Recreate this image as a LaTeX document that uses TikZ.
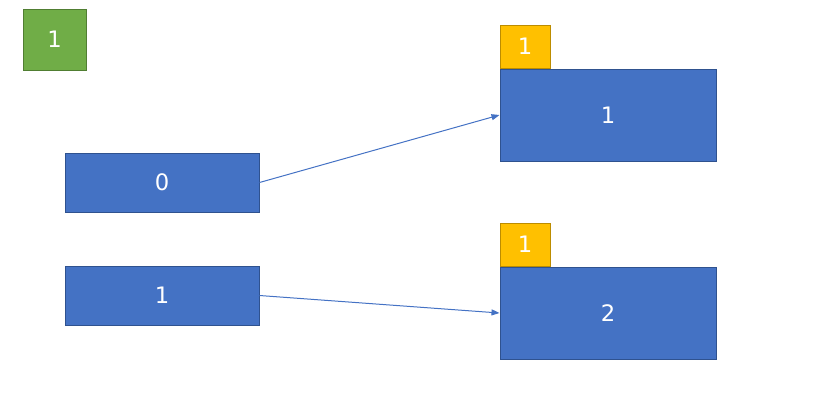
\documentclass[tikz,border=0pt]{standalone}
\usepackage{fontspec}
\setmainfont{DejaVu Sans}
\usepackage{tikz}
\usetikzlibrary{positioning,arrows.meta}

\definecolor{cellblue}{HTML}{4472C4}
\definecolor{cellblueline}{HTML}{2F528F}
\definecolor{cellgreen}{HTML}{70AD47}
\definecolor{cellgreenline}{HTML}{507E32}
\definecolor{cellyellow}{HTML}{FFC000}
\definecolor{cellyellowline}{HTML}{BC8C00}

\begin{document}
\begin{tikzpicture}[
x=0.75pt, y=-0.75pt,
node distance=0pt,
cell/.style={draw=cellblueline, line width=0.75pt, fill=cellblue, text=white, inner sep=0pt, font=\fontsize{17}{20}\selectfont},
keybox/.style={cell, minimum width=145.5pt, minimum height=44.25pt},
slotbox/.style={cell, minimum width=162pt, minimum height=69pt},
countbox/.style={cell, draw=cellyellowline, fill=cellyellow, minimum width=37.5pt, minimum height=32.25pt},
headbox/.style={cell, draw=cellgreenline, fill=cellgreen, minimum width=47.25pt, minimum height=45.75pt},
link/.style={-{Triangle[length=6pt, width=4.5pt]}, line width=0.75pt, cellblue}
]
\useasboundingbox (0,0) rectangle (817,401);
\node[headbox] (head) at (54.5,39.5) {1};
\node[keybox] (key0) at (162,182.5) {0};
\node[keybox] (key1) at (162,295.5) {1};
\node[slotbox] (slot1) at (608,115) {1};
\node[slotbox] (slot2) at (608,313) {2};
\node[countbox, above right=of slot1.north west] (cnt1) {1};
\node[countbox, above right=of slot2.north west] (cnt2) {1};
\draw[link] (key0.east) -- (slot1.west);
\draw[link] (key1.east) -- (slot2.west);
\end{tikzpicture}
\end{document}
